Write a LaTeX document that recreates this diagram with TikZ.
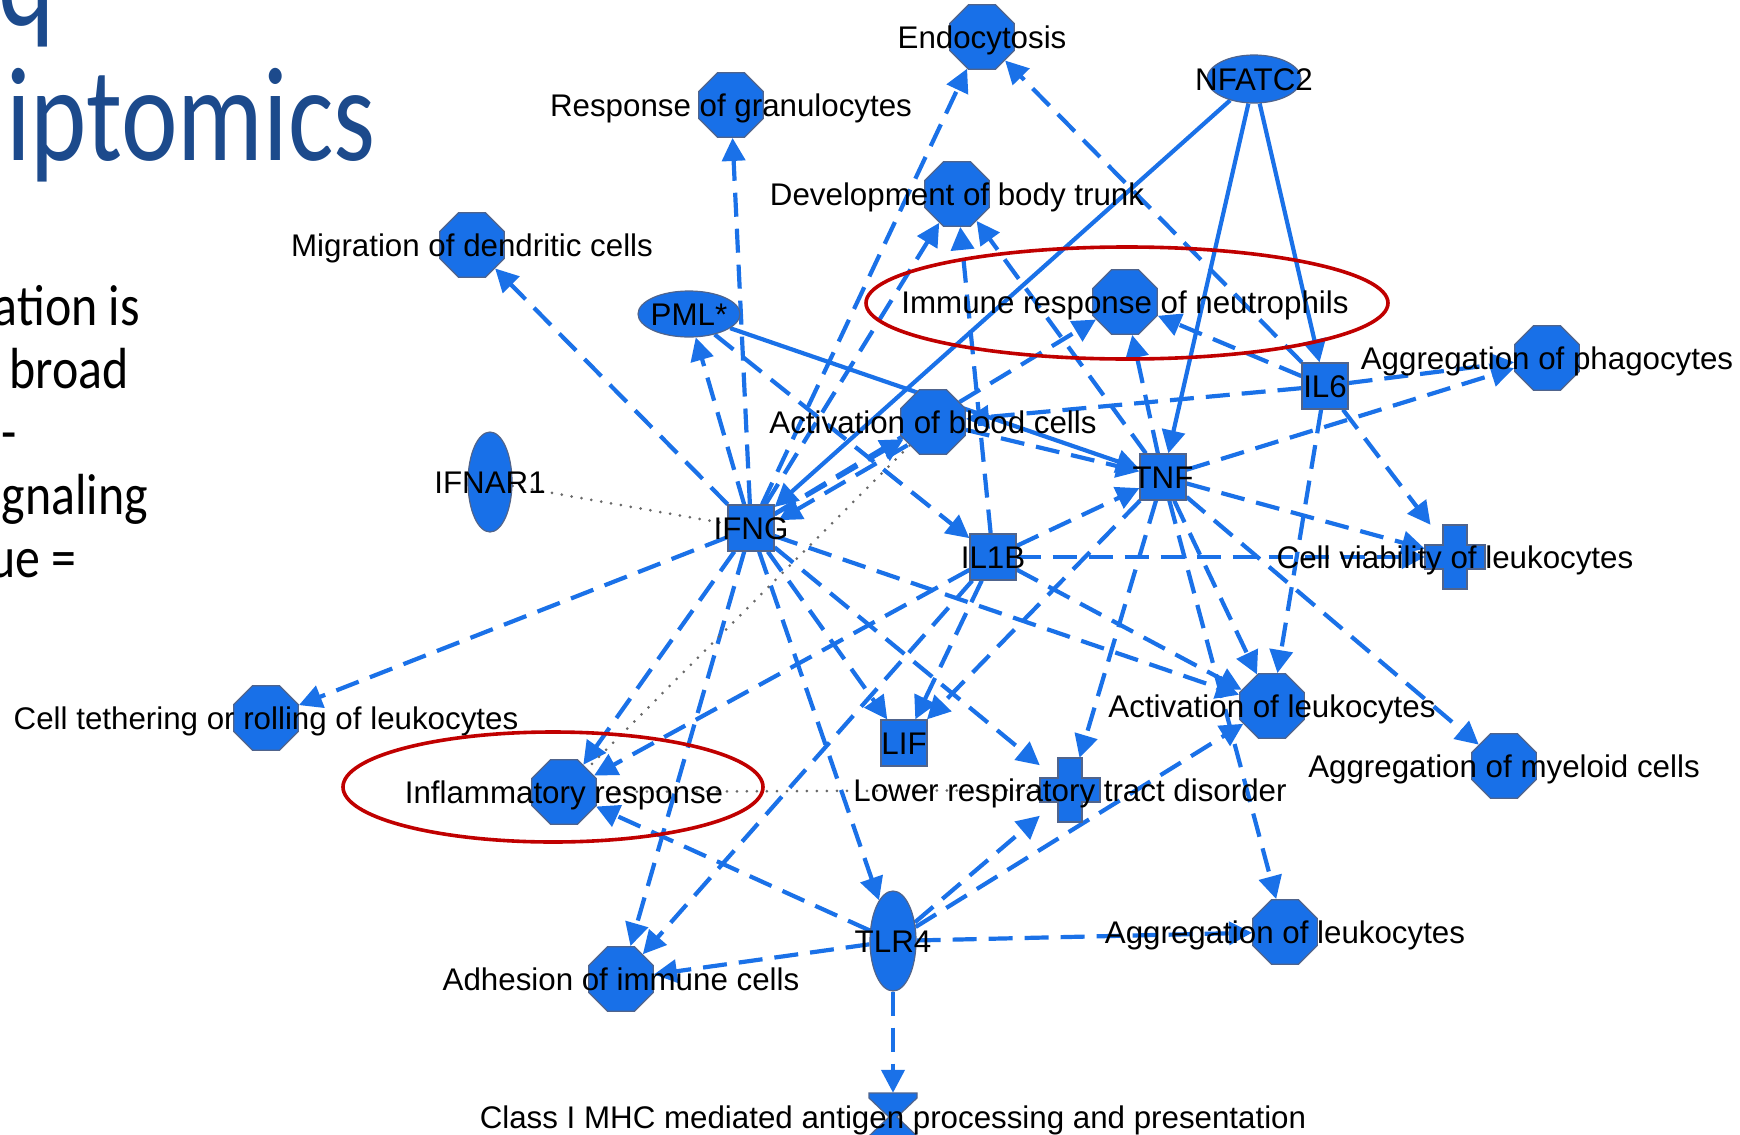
\documentclass[tikz,border=0pt]{standalone}
\usepackage{fontspec}
\usepackage{graphicx}
\usetikzlibrary{shapes.geometric,arrows.meta,calc}
\newfontfamily\ipafont{Liberation Sans}
\newfontfamily\slidefont{Carlito}
\definecolor{ipablue}{RGB}{26,113,232}
\definecolor{ipafill}{RGB}{24,112,232}
\definecolor{ipaborder}{RGB}{80,100,140}
\definecolor{ringred}{RGB}{192,0,0}
\definecolor{titleblue}{RGB}{28,74,140}
\definecolor{dotgray}{RGB}{105,105,105}
\pgfdeclarelayer{edgelayer}
\pgfsetlayers{edgelayer,main}
\tikzset{
  oct/.style={regular polygon, regular polygon sides=8, minimum size=70pt, inner sep=0pt, fill=ipafill, draw=ipaborder, line width=1.2pt},
  sq/.style={rectangle, minimum size=46pt, inner sep=0pt, fill=ipafill, draw=ipaborder, line width=1.2pt},
  ell/.style={ellipse, inner sep=0pt, fill=ipafill, draw=ipaborder, line width=1.2pt},
  crossbox/.style={rectangle, inner sep=0pt, minimum width=60pt, minimum height=64pt},
  hgbox/.style={rectangle, inner sep=0pt, minimum width=48pt, minimum height=48pt},
  shapefill/.style={fill=ipafill, draw=ipaborder, line width=1.2pt},
  lbl/.style={inner sep=0pt, font=\ipafont\fontsize{31.3}{37}\selectfont, text height=22pt, text depth=0pt},
  dep/.style={draw=ipablue, line width=4.2pt, dash pattern=on 24pt off 12pt, -{Triangle[length=23pt,width=23pt]}},
  sol/.style={draw=ipablue, line width=4.2pt, -{Triangle[length=23pt,width=23pt]}},
  dots/.style={draw=dotgray, line width=3pt, line cap=round, dash pattern=on 0pt off 10pt},
  ring/.style={ellipse, inner sep=0pt, draw=ringred, line width=3.6pt},
  titletext/.style={inner sep=0pt, text=titleblue, font=\slidefont\fontsize{134}{134}\selectfont},
  body/.style={anchor=base east, inner sep=0pt, text=black, font=\slidefont\fontsize{58}{58}\selectfont},
}
\begin{document}
\begin{tikzpicture}[x=1pt,y=-1pt]
\useasboundingbox (0,0) rectangle (1740,1135);
\clip (0,0) rectangle (1740,1135);

% ---------- slide text ----------
\node[titletext, anchor=base east] (tq) at (55,25) {\scalebox{0.80}[1]{q}};
\node[titletext, anchor=base west] (tt) at (6,160) {\scalebox{0.80}[1]{iptomics}};
\node[body] (b1) at (140,325) {\scalebox{0.86}[1]{ation is}};
\node[body] (b2) at (129,388) {\scalebox{0.86}[1]{broad}};
\node[body] (b3) at (17,451) {\scalebox{0.86}[1]{-}};
\node[body] (b4) at (148,514) {\scalebox{0.86}[1]{gnaling}};
\node[body] (b5) at (77,577) {\scalebox{0.86}[1]{ue =}};

% ---------- shapes ----------
\node[oct] (endo) at (982,37) {};
\node[ell, minimum width=94pt, minimum height=48pt] (nfatc) at (1254,79) {};
\node[oct] (gran) at (731,105) {};
\node[oct] (trunk) at (957,194) {};
\node[oct] (migr) at (472,245) {};
\node[ell, minimum width=102pt, minimum height=46pt] (pml) at (689,314) {};
\node[oct] (neut) at (1125,302) {};
\node[sq] (il6) at (1325,386) {};
\node[oct] (phag) at (1547,358) {};
\node[oct] (blood) at (933,422) {};
\node[ell, minimum width=44pt, minimum height=100pt] (ifnar) at (490,482) {};
\node[sq] (tnf) at (1163,477) {};
\node[sq] (ifng) at (751,528) {};
\node[sq] (il1b) at (993,557) {};
\node[crossbox] (viab) at (1455,557) {};
\node[oct] (teth) at (266,718) {};
\node[oct] (leuk) at (1272,706) {};
\node[sq] (lif) at (904,743) {};
\node[oct] (myel) at (1504,766) {};
\node[oct] (inflam) at (564,792) {};
\node[crossbox] (lrtd) at (1070,790) {};
\node[ell, minimum width=46pt, minimum height=100pt] (tlr4) at (893,941) {};
\node[oct] (aggl) at (1285,932) {};
\node[oct] (adh) at (621,979) {};
\node[hgbox] (mhc) at (893,1117) {};

% cross shapes
\begin{scope}[shift={(viab.center)}]
\path[shapefill] (-12,-32) -- (12,-32) -- (12,-12) -- (30,-12) -- (30,12) -- (12,12) -- (12,32) -- (-12,32) -- (-12,12) -- (-30,12) -- (-30,-12) -- (-12,-12) -- cycle;
\end{scope}
\begin{scope}[shift={(lrtd.center)}]
\path[shapefill] (-12,-32) -- (12,-32) -- (12,-12) -- (30,-12) -- (30,12) -- (12,12) -- (12,32) -- (-12,32) -- (-12,12) -- (-30,12) -- (-30,-12) -- (-12,-12) -- cycle;
\end{scope}
% hourglass
\begin{scope}[shift={(mhc.center)}]
\path[shapefill] (-24,-24) -- (24,-24) -- (24,-19) -- (4,0) -- (24,19) -- (24,24) -- (-24,24) -- (-24,19) -- (-4,0) -- (-24,-19) -- cycle;
\end{scope}

% ---------- edges ----------
\begin{pgfonlayer}{edgelayer}
\draw[sol] (nfatc) -- (ifng);
\draw[sol] (nfatc) -- (tnf);
\draw[sol] (nfatc) -- (il6);
\draw[sol] (pml) -- (tnf);

\draw[dep] (ifng) -- (migr);
\draw[dep] (ifng) -- (gran);
\draw[dep] (ifng) -- (pml);
\draw[dep] (ifng) -- (endo);
\draw[dep] (ifng) -- (trunk);
\draw[dep] (ifng) -- (blood);
\draw[dep, transform canvas={shift={(4pt,-6pt)}}] (blood) -- (ifng);
\draw[dep] (ifng) -- (neut);
\draw[dep] (ifng) -- (teth);
\draw[dep] (ifng) -- (inflam);
\draw[dep] (ifng) -- (adh);
\draw[dep] (ifng) -- (tlr4);
\draw[dep] (ifng) -- (lif);
\draw[dep] (ifng) -- (lrtd);
\draw[dep] (ifng) -- (leuk);

\draw[dep] (pml) -- (il1b);

\draw[dep] (il1b) -- (trunk);
\draw[dep] (il1b) -- (tnf);
\draw[dep] (il1b) -- (viab);
\draw[dep] (il1b) -- (lif);
\draw[dep] (il1b) -- (inflam);
\draw[dep] (il1b) -- (adh);
\draw[dep] (il1b) -- (leuk);

\draw[dep] (blood) -- (tnf);

\draw[dep] (tnf) -- (trunk);
\draw[dep] (tnf) -- (neut);
\draw[dep] (tnf) -- (phag);
\draw[dep] (tnf) -- (viab);
\draw[dep] (tnf) -- (myel);
\draw[dep] (tnf) -- (leuk);
\draw[dep] (tnf) -- (aggl);
\draw[dep] (tnf) -- (lrtd);
\draw[dep] (tnf) -- (lif);

\draw[dep] (il6) -- (endo);
\draw[dep] (il6) -- (neut);
\draw[dep] (il6) -- (blood);
\draw[dep] (il6) -- (phag);
\draw[dep] (il6) -- (viab);
\draw[dep] (il6) -- (leuk);

\draw[dep] (tlr4) -- (inflam);
\draw[dep] (tlr4) -- (adh);
\draw[dep] (tlr4) -- (lrtd);
\draw[dep] (tlr4) -- (leuk);
\draw[dep] (tlr4) -- (aggl);
\draw[dep] (tlr4) -- (mhc);

\draw[dots] (ifnar) -- (ifng);
\draw[dots] (blood) -- (inflam);
\draw[dots] (inflam) -- (lrtd);
\end{pgfonlayer}

% ---------- labels ----------
\node[lbl] (endo-t) at (endo) {Endocytosis};
\node[lbl] (nfatc-t) at (nfatc) {NFATC2};
\node[lbl] (gran-t) at (gran) {Response of granulocytes};
\node[lbl] (trunk-t) at (trunk) {Development of body trunk};
\node[lbl] (migr-t) at (migr) {Migration of dendritic cells};
\node[lbl] (pml-t) at (pml) {PML*};
\node[lbl] (neut-t) at (neut) {Immune response of neutrophils};
\node[lbl] (il6-t) at (il6) {IL6};
\node[lbl] (phag-t) at (phag) {Aggregation of phagocytes};
\node[lbl] (blood-t) at (blood) {Activation of blood cells};
\node[lbl] (ifnar-t) at (ifnar) {IFNAR1};
\node[lbl] (tnf-t) at (tnf) {TNF};
\node[lbl] (ifng-t) at (ifng) {IFNG};
\node[lbl] (il1b-t) at (il1b) {IL1B};
\node[lbl] (viab-t) at (viab) {Cell viability of leukocytes};
\node[lbl] (teth-t) at (teth) {Cell tethering or rolling of leukocytes};
\node[lbl] (leuk-t) at (leuk) {Activation of leukocytes};
\node[lbl] (lif-t) at (lif) {LIF};
\node[lbl] (myel-t) at (myel) {Aggregation of myeloid cells};
\node[lbl] (inflam-t) at (inflam) {Inflammatory response};
\node[lbl] (lrtd-t) at (lrtd) {Lower respiratory tract disorder};
\node[lbl] (tlr4-t) at (tlr4) {TLR4};
\node[lbl] (aggl-t) at (aggl) {Aggregation of leukocytes};
\node[lbl] (adh-t) at (adh) {Adhesion of immune cells};
\node[lbl] (mhc-t) at (mhc) {Class I MHC mediated antigen processing and presentation};

% ---------- highlight rings ----------
\node[ring, minimum width=522pt, minimum height=112pt] (ring1) at (1127,303) {};
\node[ring, minimum width=420pt, minimum height=110pt] (ring2) at (553,787) {};
\end{tikzpicture}
\end{document}
